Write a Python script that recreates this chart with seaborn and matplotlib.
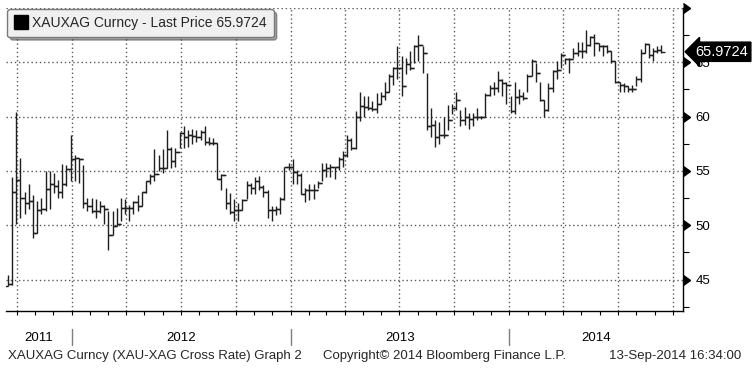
import pandas as pd
import seaborn as sns
import matplotlib.pyplot as plt
import matplotlib.dates as mdates
from matplotlib.lines import Line2D

# weekly XAUXAG bars (high / low / close)
highs = [45.4, 54.4, 60.4, 56.2, 53.1, 53.8, 52.8, 52.2, 52.5, 55.0,
         55.0, 54.8, 54.2, 55.6, 55.5, 58.3, 56.5, 56.2, 55.5, 52.5,
         52.5, 52.4, 52.2, 51.9, 51.3, 51.3, 51.6, 52.5, 52.4, 51.9,
         52.2, 52.8, 53.1, 54.1, 54.7, 57.0, 56.5, 57.0, 58.8, 57.2,
         57.1, 58.6, 59.1, 58.8, 58.9, 58.8, 58.8, 59.1, 58.1, 58.0,
         57.6, 54.7, 53.4, 53.0, 52.4, 52.0, 52.4, 54.1, 53.9, 54.4,
         54.5, 53.7, 53.2, 51.8, 51.8, 52.6, 55.4, 55.7, 56.1, 55.1,
         54.8, 53.4, 53.8, 53.8, 54.1, 55.7, 55.7, 55.6, 55.4, 56.3,
         56.8, 58.3, 58.0, 60.5, 62.3, 61.9, 61.9, 61.4, 62.2, 62.3,
         63.2, 63.9, 64.6, 66.5, 65.6, 65.4, 66.0, 66.6, 67.5, 66.5,
         64.0, 60.8, 59.7, 59.5, 60.0, 61.1, 61.2, 62.3, 60.6, 60.9,
         60.3, 60.3, 60.8, 60.1, 62.2, 62.9, 63.2, 64.2, 63.5, 63.2,
         61.9, 63.2, 62.5, 62.3, 63.9, 65.3, 64.9, 63.2, 61.5, 63.1,
         64.3, 65.1, 65.9, 65.4, 65.4, 66.3, 66.9, 66.9, 68.0, 67.4,
         67.6, 66.8, 66.6, 66.6, 66.0, 65.1, 63.2, 63.1, 62.8, 62.9,
         63.7, 66.2, 66.8, 66.7, 66.3, 66.5, 66.6]
lows = [44.4, 44.5, 50.1, 50.7, 51.0, 51.5, 48.8, 49.3, 51.0, 51.3,
        51.5, 53.0, 52.5, 52.5, 53.6, 54.1, 54.1, 53.9, 51.6, 51.3,
        51.1, 50.7, 51.1, 50.1, 47.7, 49.1, 49.9, 50.4, 51.0, 50.4,
        51.0, 51.3, 51.8, 53.0, 53.8, 54.1, 55.0, 54.8, 55.3, 55.3,
        55.4, 57.1, 57.1, 57.2, 57.5, 57.7, 57.8, 57.4, 57.4, 57.4,
        54.3, 53.2, 51.5, 51.0, 50.4, 50.4, 51.4, 52.4, 52.9, 52.9,
        53.2, 52.6, 50.7, 50.4, 50.9, 51.0, 52.3, 55.1, 53.8, 53.8,
        52.9, 52.1, 52.3, 52.4, 53.4, 54.1, 54.4, 54.4, 54.3, 55.1,
        55.4, 56.3, 56.9, 57.0, 59.6, 60.0, 60.6, 60.5, 60.3, 61.2,
        61.5, 62.3, 62.9, 63.5, 61.9, 63.9, 64.3, 64.9, 65.1, 64.0,
        58.8, 58.1, 57.2, 57.5, 58.0, 58.8, 60.2, 60.6, 59.1, 59.2,
        58.9, 59.1, 59.7, 59.8, 60.0, 61.9, 62.0, 62.3, 61.9, 61.2,
        60.3, 60.2, 61.2, 61.5, 62.3, 63.7, 63.2, 61.4, 60.0, 60.5,
        62.3, 63.5, 64.5, 64.8, 64.0, 65.4, 65.6, 65.4, 65.9, 66.5,
        65.6, 66.0, 65.6, 65.9, 64.9, 63.1, 62.3, 62.3, 62.3, 62.3,
        62.8, 63.2, 65.9, 65.4, 65.1, 65.9, 65.9]
closes = [44.6, 53.1, 54.2, 52.5, 52.0, 52.2, 49.3, 51.4, 51.5, 53.3,
          53.8, 53.6, 53.1, 53.8, 55.2, 56.1, 56.2, 56.1, 52.0, 51.8,
          51.3, 51.3, 51.8, 51.5, 49.1, 49.9, 50.1, 51.6, 51.6, 51.6,
          52.1, 51.8, 53.1, 54.1, 54.5, 54.7, 55.3, 55.3, 57.0, 55.9,
          56.7, 58.5, 58.1, 58.3, 58.2, 58.1, 58.6, 57.7, 57.6, 57.6,
          54.3, 54.6, 52.0, 51.2, 51.4, 51.4, 52.3, 53.7, 53.4, 54.1,
          53.5, 53.1, 51.4, 51.4, 51.5, 52.4, 55.4, 55.4, 54.9, 54.6,
          52.9, 53.2, 53.2, 53.2, 53.9, 55.1, 55.3, 55.4, 55.4, 56.1,
          56.5, 57.8, 57.1, 60.0, 61.0, 60.9, 60.8, 60.7, 61.2, 61.9,
          62.3, 63.7, 64.5, 64.5, 62.8, 64.8, 64.5, 66.5, 66.6, 65.9,
          59.1, 59.2, 58.1, 58.3, 58.3, 59.7, 60.8, 61.5, 59.7, 60.0,
          59.8, 60.0, 60.0, 60.0, 62.0, 62.6, 62.6, 63.4, 63.1, 62.9,
          60.5, 61.8, 61.9, 61.7, 63.7, 65.1, 64.0, 61.5, 60.6, 62.6,
          64.2, 64.3, 65.7, 65.3, 65.3, 65.9, 66.0, 66.0, 66.6, 67.3,
          66.8, 66.5, 66.5, 66.0, 65.1, 63.2, 62.9, 62.8, 62.5, 62.5,
          63.5, 65.9, 66.7, 65.7, 66.0, 66.1, 65.9724]
last_week = "2014-09-12"
years = [2011, 2012, 2013, 2014]
y_major = [45, 50, 55, 60, 65, 70]
y_minor = [42.5, 47.5, 52.5, 57.5, 62.5, 67.5]

dates = pd.date_range(end=last_week, periods=len(closes), freq="W-FRI")
opens = [lows[0]] + closes[:-1]
df = pd.DataFrame({"date": dates, "open": opens, "high": highs,
                   "low": lows, "close": closes})

sns.set_theme(style="white")
plt.rcParams["font.family"] = ["Liberation Sans", "DejaVu Sans"]

fig = plt.figure(figsize=(7.52, 3.72), dpi=100)
ax = fig.add_axes([6 / 752, 61 / 372, 677 / 752, 303 / 372])

bar_col = "#1f1f1f"
ax.vlines(df["date"], df["low"], df["high"], color=bar_col, lw=1.0)
sns.scatterplot(data=df, x="date", y="open", marker=0, s=7, color=bar_col,
                linewidth=1.0, ax=ax, legend=False)
sns.scatterplot(data=df, x="date", y="close", marker=1, s=7, color=bar_col,
                linewidth=1.0, ax=ax, legend=False)

x0, x1 = pd.Timestamp("2011-09-13"), pd.Timestamp("2014-10-18")
ax.set_xlim(x0, x1)
ax.set_ylim(42.1, 70)
ax.set_xlabel("")
ax.set_ylabel("")

# x axis: monthly ticks, quarterly grid
ax.xaxis.set_major_locator(mdates.MonthLocator(bymonth=[1, 4, 7, 10]))
ax.xaxis.set_minor_locator(mdates.MonthLocator())
ax.tick_params(axis="x", which="both", bottom=True, direction="out", length=3,
               width=0.8, color="black", labelbottom=False)

# y axis on the right
ax.yaxis.tick_right()
ax.set_yticks(y_major)
ax.set_yticklabels([str(v) if v < 70 else "" for v in y_major])
ax.set_yticks(y_minor, minor=True)
ax.tick_params(axis="y", which="major", right=True, length=0, pad=9,
               labelsize=9.5, labelcolor="black")
ax.tick_params(axis="y", which="minor", right=True, direction="out",
               length=4, width=0.8, color="black")
ax.plot([1] * len(y_major), y_major, transform=ax.get_yaxis_transform(),
        marker=9, ms=6.5, ls="", color="black", clip_on=False)

ax.grid(True, which="major", ls=(0, (1.0, 2.0)), color="#5a5a5a", lw=1.0,
        snap=True)

for side in ["left", "top"]:
    ax.spines[side].set_visible(False)
for side in ["right", "bottom"]:
    ax.spines[side].set_color("black")
    ax.spines[side].set_linewidth(1.0)

# year labels and separators under the axis
xt = ax.get_xaxis_transform()
for yr in years:
    a = max(pd.Timestamp(f"{yr}-01-01"), x0)
    b = min(pd.Timestamp(f"{yr + 1}-01-01"), x1)
    ax.text(a + (b - a) / 2, -0.09, str(yr), transform=xt, ha="center",
            va="center", fontsize=9.5, color="black")
    if yr > years[0]:
        j = pd.Timestamp(f"{yr}-01-01")
        ax.plot([j, j], [-0.06, -0.112], transform=xt, color="#7f7f7f",
                lw=1, clip_on=False)

# legend box
handle = Line2D([0], [0], marker="s", color="black", ls="", ms=9.5)
ax.legend([handle], [f"XAUXAG Curncy - Last Price {closes[-1]:.4f}"],
          loc="upper left", bbox_to_anchor=(0.0, 1.0), frameon=True,
          fancybox=True, shadow=True, facecolor="#f0f0f0",
          edgecolor="#7a7a7a", framealpha=1, fontsize=10,
          handlelength=0.9, handletextpad=0.4, borderpad=0.5,
          borderaxespad=0.1)

# last price tag
ax.annotate(f"{closes[-1]:.4f}", xy=(1, closes[-1]),
            xycoords=ax.get_yaxis_transform(), xytext=(9, 0),
            textcoords="offset points", ha="left", va="center",
            color="white", fontsize=10.5, annotation_clip=False,
            bbox=dict(boxstyle="larrow,pad=0.18", fc="black", ec="black"))

# footer
fig.text(8 / 752, 16 / 372, "XAUXAG Curncy (XAU-XAG Cross Rate) Graph 2",
         fontsize=9.5, va="center")
fig.text(323 / 752, 16 / 372, "Copyright\u00a9 2014 Bloomberg Finance L.P.",
         fontsize=9.5, va="center")
fig.text(741 / 752, 16 / 372, "13-Sep-2014 16:34:00", fontsize=9.5,
         va="center", ha="right")

fig.savefig("out.png", dpi=100, facecolor="white")
